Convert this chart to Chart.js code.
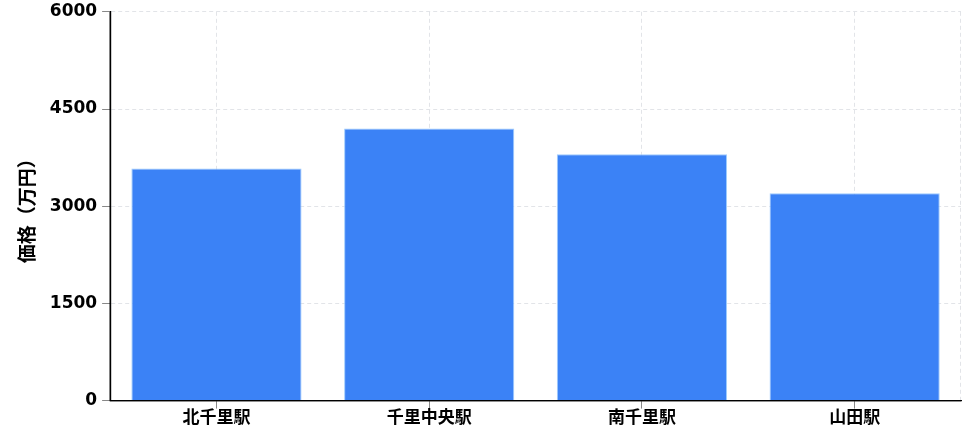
<!DOCTYPE html>
<html>
<head>
<meta charset="utf-8">
<script src="https://cdn.jsdelivr.net/npm/chart.js@4"></script>
<style>
html,body{margin:0;padding:0;background:#fff;}
#wrap{width:973px;height:434px;position:relative;}
</style>
</head>
<body>
<div id="wrap"><canvas id="c"></canvas></div>
<script>
const categories = ["北千里駅", "千里中央駅", "南千里駅", "山田駅"];
const prices = [3580, 4200, 3800, 3200];
const yTicks = [0, 1500, 3000, 4500, 6000];
const yTitle = "価格（万円）";

const FONT = "'DejaVu Sans', 'Noto Sans CJK JP', sans-serif";

new Chart(document.getElementById('c'), {
  type: 'bar',
  data: {
    labels: categories,
    datasets: [{
      data: prices,
      backgroundColor: '#3b82f6',
      borderColor: 'rgba(147,197,253,0.9)',
      borderWidth: 1,
      categoryPercentage: 0.8,
      barPercentage: 1.0
    }]
  },
  options: {
    responsive: true,
    maintainAspectRatio: false,
    animation: false,
    layout: { padding: { top: 0, right: 12, bottom: 5, left: 16 } },
    plugins: { legend: { display: false }, tooltip: { enabled: false } },
    scales: {
      x: {
        grid: {
          display: true,
          color: '#e2e4e8',
          tickColor: '#888',
          tickLength: 8,
          offset: false
        },
        border: { display: true, color: '#000', width: 1.2, dash: [4,3] },
        ticks: {
          color: '#000',
          font: { family: FONT, size: 17, weight: 'bold' },
          padding: 0
        }
      },
      y: {
        min: 0,
        max: 6000,
        afterBuildTicks: (axis) => { axis.ticks = yTicks.map(v => ({ value: v })); },
        grid: {
          color: '#e2e4e8',
          tickColor: '#888',
          tickLength: 8
        },
        border: { display: true, color: '#000', width: 1.2, dash: [4,3] },
        ticks: {
          color: '#000',
          font: { family: FONT, size: 17, weight: 'bold', lineHeight: 0.8 },
          padding: 5,
          callback: (v) => String(v)
        },
        title: {
          display: true,
          text: yTitle,
          color: '#000',
          font: { family: FONT, size: 19, weight: 'bold' },
          padding: { top: 2, bottom: 4 }
        }
      }
    }
  },
  plugins: [{
    id: 'solidAxes',
    beforeDatasetsDraw(chart) {
      const { ctx, chartArea: a } = chart;
      ctx.save();
      ctx.strokeStyle = '#e2e4e8';
      ctx.lineWidth = 1;
      ctx.setLineDash([4, 3]);
      ctx.beginPath();
      ctx.moveTo(a.right - 0.5, a.top);
      ctx.lineTo(a.right - 0.5, a.bottom);
      ctx.stroke();
      ctx.restore();
    },
    afterDraw(chart) {
      const { ctx, chartArea: a } = chart;
      ctx.save();
      ctx.strokeStyle = '#000';
      ctx.lineWidth = 1.2;
      ctx.setLineDash([]);
      ctx.beginPath();
      ctx.moveTo(a.left, a.top);
      ctx.lineTo(a.left, a.bottom);
      ctx.lineTo(a.right, a.bottom);
      ctx.stroke();
      ctx.restore();
    }
  }]
});
</script>
</body>
</html>
